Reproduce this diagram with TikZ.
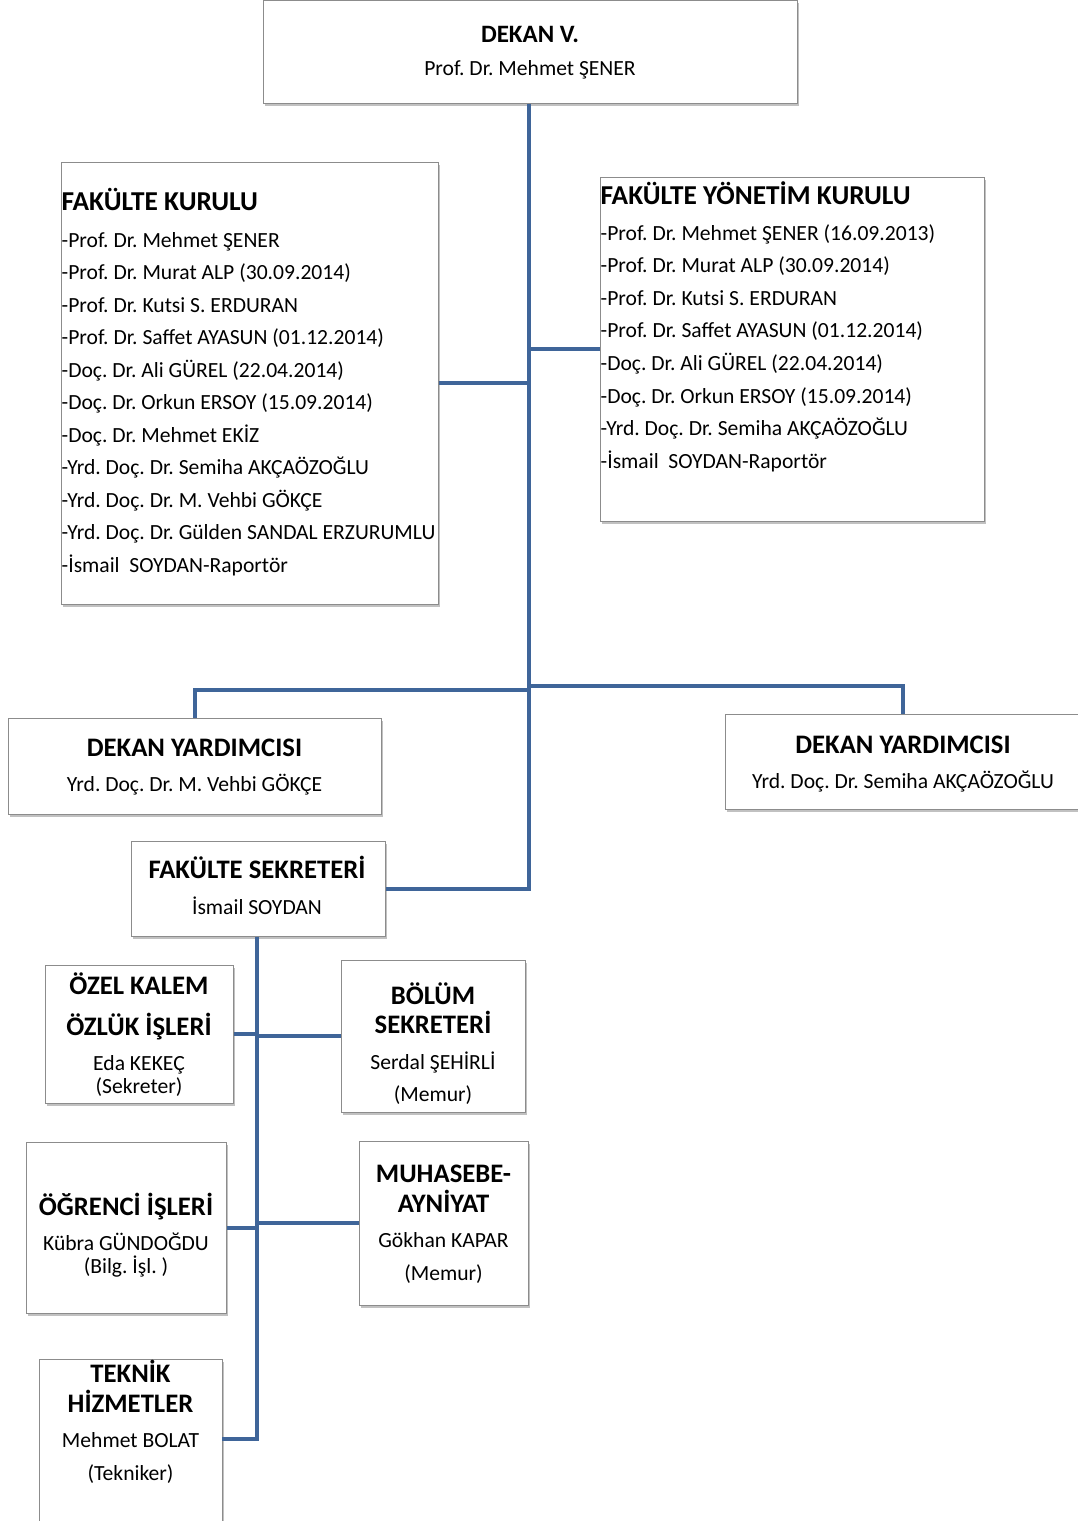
\documentclass[tikz,border=0pt]{standalone}
\usepackage{fontspec}
\setmainfont{Carlito}
\usetikzlibrary{shadows}

\definecolor{linkblue}{HTML}{3F6599}
\definecolor{boxgray}{HTML}{8C8C8C}

\newcommand\bodyfont{\fontsize{21.6}{25}\selectfont}
\newcommand\boxttl{\fontsize{26.7}{30}\selectfont\bfseries}
\newcommand\topttl{\fontsize{25}{29}\selectfont\bfseries}
\newcommand\smallttl{\fontsize{26.7}{30}\selectfont\bfseries}
\newcommand\listttl{\fontsize{27.3}{31}\selectfont\bfseries}
\frenchspacing

\tikzset{
	orgbox/.style={draw=boxgray, line width=1pt, fill=white, inner sep=0pt,
		drop shadow={shadow xshift=2pt, shadow yshift=-2.5pt, opacity=.35, fill=black!70}},
	txt/.style={inner sep=0pt, anchor=base, font=\bodyfont},
	lst/.style={inner sep=0pt, anchor=base west, font=\bodyfont},
	link/.style={draw=linkblue, line width=4pt}
}

\begin{document}
\begin{tikzpicture}[x=1pt, y=-1pt]
		\useasboundingbox (0,0) rectangle (1078,1521);

		% boxes
		\node[orgbox, minimum width=534, minimum height=103] (dekan) at (530,51.5) {};
		\node[orgbox, minimum width=377, minimum height=442] (fk) at (249.5,383) {};
		\node[orgbox, minimum width=384, minimum height=344] (fyk) at (792,349) {};
		\node[orgbox, minimum width=373, minimum height=96] (dyl) at (194.5,766) {};
		\node[orgbox, minimum width=356, minimum height=95] (dyr) at (903,761.5) {};
		\node[orgbox, minimum width=254, minimum height=95] (fs) at (258,888.5) {};
		\node[orgbox, minimum width=188, minimum height=138] (ozel) at (139,1034) {};
		\node[orgbox, minimum width=184, minimum height=152] (bol) at (433,1036) {};
		\node[orgbox, minimum width=200, minimum height=171] (ogr) at (126,1227.5) {};
		\node[orgbox, minimum width=169, minimum height=164] (muh) at (443.5,1223) {};
		\node[orgbox, minimum width=183, minimum height=175] (tek) at (130.5,1446.5) {};

		% texts of the centred boxes
		\node[txt] (dekan-1) at (530,42) {\topttl DEKAN V.};
		\node[txt] (dekan-2) at (530,75.6) {Prof. Dr. Mehmet ŞENER};

		\node[txt] (dyl-1) at (194.5,756.3) {\boxttl DEKAN YARDIMCISI};
		\node[txt] (dyl-2) at (194.5,791.6) {Yrd. Doç. Dr. M. Vehbi GÖKÇE};

		\node[txt] (dyr-1) at (903,753.3) {\boxttl DEKAN YARDIMCISI};
		\node[txt] (dyr-2) at (903,788.6) {Yrd. Doç. Dr. Semiha AKÇAÖZOĞLU};

		\node[txt] (fs-1) at (257,878.3) {\boxttl FAKÜLTE SEKRETERİ};
		\node[txt] (fs-2) at (257,914.6) {İsmail SOYDAN};

		\foreach \t/\y [count=\i] in {{\smallttl ÖZEL KALEM}/994.6, {\smallttl ÖZLÜK İŞLERİ}/1035.6,
			{Eda KEKEÇ}/1070.6, {(Sekreter)}/1093.6}
			\node[txt] (ozel-\i) at (139,\y) {\t};

		\foreach \t/\y [count=\i] in {{\smallttl BÖLÜM}/1004.6, {\smallttl SEKRETERİ}/1033.6,
			{Serdal ŞEHİRLİ}/1069.6, {(Memur)}/1101.6}
			\node[txt] (bol-\i) at (433,\y) {\t};

		\foreach \t/\y [count=\i] in {{\smallttl ÖĞRENCİ İŞLERİ}/1215.6, {Kübra GÜNDOĞDU}/1250.6,
			{(Bilg. İşl. )}/1273.6}
			\node[txt] (ogr-\i) at (126,\y) {\t};

		\foreach \t/\y [count=\i] in {{\smallttl MUHASEBE-}/1182.6, {\smallttl AYNİYAT}/1212.6,
			{Gökhan KAPAR}/1247.6, {(Memur)}/1280.6}
			\node[txt] (muh-\i) at (443.5,\y) {\t};

		\foreach \t/\y [count=\i] in {{\smallttl TEKNİK}/1382.6, {\smallttl HİZMETLER}/1412.6,
			{Mehmet BOLAT}/1447.6, {(Tekniker)}/1480.6}
			\node[txt] (tek-\i) at (130.5,\y) {\t};

		% the two lists
		\node[lst] (fk-0) at (61.5,210.8) {\listttl FAKÜLTE KURULU};
		\foreach \t [count=\i] in {{-Prof. Dr. Mehmet ŞENER}, {-Prof. Dr. Murat ALP (30.09.2014)},
			{-Prof. Dr. Kutsi S. ERDURAN}, {-Prof. Dr. Saffet AYASUN (01.12.2014)},
			{-Doç. Dr. Ali GÜREL (22.04.2014)}, {-Doç. Dr. Orkun ERSOY (15.09.2014)},
			{-Doç. Dr. Mehmet EKİZ}, {-Yrd. Doç. Dr. Semiha AKÇAÖZOĞLU},
			{-Yrd. Doç. Dr. M. Vehbi GÖKÇE}, {-Yrd. Doç. Dr. Gülden SANDAL ERZURUMLU},
			{-İsmail\ \ SOYDAN-Raportör}}
			\node[lst] (fk-\i) at (61.5,214.6+32.5*\i) {\t};

		\node[lst] (fyk-0) at (600.5,204.8) {\listttl FAKÜLTE YÖNETİM KURULU};
		\foreach \t [count=\i] in {{-Prof. Dr. Mehmet ŞENER (16.09.2013)}, {-Prof. Dr. Murat ALP (30.09.2014)},
			{-Prof. Dr. Kutsi S. ERDURAN}, {-Prof. Dr. Saffet AYASUN (01.12.2014)},
			{-Doç. Dr. Ali GÜREL (22.04.2014)}, {-Doç. Dr. Orkun ERSOY (15.09.2014)},
			{-Yrd. Doç. Dr. Semiha AKÇAÖZOĞLU}, {-İsmail\ \ SOYDAN-Raportör}}
			\node[lst] (fyk-\i) at (600.5,207.5+32.6*\i) {\t};

		% connectors
		\coordinate (dyl-in) at (529,690);
		\coordinate (dyr-in) at (529,686);
		\coordinate (tek-in) at (222,1439);

		\draw[link] ([xshift=-1pt]dekan.south) -- ([xshift=-1pt]dekan.south |- fs.east) -- (fs.east);
		\draw[link] (fk.east) -- (fk.east -| dyl-in);
		\draw[link] (fyk.west) -- (fyk.west -| dyl-in);
		\draw[link] (dyl-in) -| (dyl.north);
		\draw[link] (dyr-in) -| (dyr.north);

		\draw[link] ([xshift=-1pt]fs.south) |- (tek-in);
		\draw[link] (ozel.east) -- ([xshift=-1pt]ozel.east -| fs.south);
		\draw[link] (bol.west) -- ([xshift=-1pt]bol.west -| fs.south);
		\draw[link] (ogr.east) -- ([xshift=-1pt]ogr.east -| fs.south);
		\draw[link] (muh.west) -- ([xshift=-1pt]muh.west -| fs.south);
	\end{tikzpicture}
\end{document}
